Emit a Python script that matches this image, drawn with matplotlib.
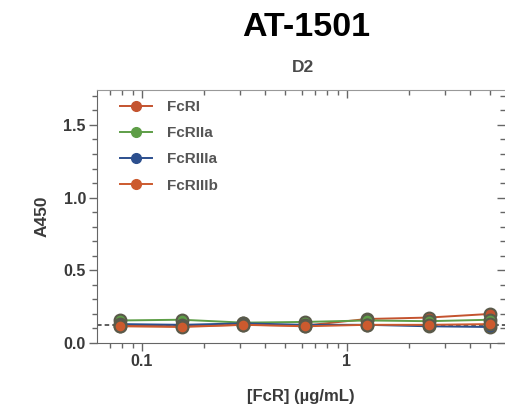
import matplotlib
matplotlib.use("Agg")
import matplotlib.pyplot as plt
from matplotlib.lines import Line2D
from matplotlib.ticker import MultipleLocator, LogLocator, NullFormatter, FixedLocator, FixedFormatter

plt.rcParams['font.family'] = ['Liberation Sans', 'DejaVu Sans']

# FcR concentration series (2-fold dilutions, ug/mL)
conc = [0.078, 0.156, 0.3125, 0.625, 1.25, 2.5, 5.0]

series_names = ["FcRI", "FcRIIa", "FcRIIIa", "FcRIIIb"]
fcri = [0.120, 0.115, 0.125, 0.120, 0.165, 0.175, 0.200]
fcriia = [0.155, 0.160, 0.140, 0.145, 0.155, 0.150, 0.160]
fcriiia = [0.130, 0.125, 0.135, 0.125, 0.125, 0.115, 0.110]
fcriiib = [0.115, 0.110, 0.125, 0.115, 0.125, 0.125, 0.130]
series_values = [fcri, fcriia, fcriiia, fcriiib]
series_colors = ["#C4532F", "#5E9E47", "#2C4F8E", "#CC5A2E"]

background_level = 0.127

x_tick_values = [0.1, 1]
x_tick_labels = ["0.1", "1"]

fig = plt.figure(figsize=(5.05, 4.11), dpi=100)
ax = fig.add_axes([97 / 505, 1 - 343 / 411, 408 / 505, 253 / 411])

for vals, col in zip(series_values, series_colors):
    ax.plot(conc, vals, color=col, lw=1.4, marker='o', markersize=8.5,
            markerfacecolor=col, markeredgecolor='#5a5a4a', markeredgewidth=1.5,
            zorder=3)

ax.axhline(background_level, color='#333333', lw=1.1, ls=(0, (3, 2)), zorder=2)

ax.set_xscale('log')
ax.set_xlim(0.0603, 5.9)
ax.set_ylim(0, 1.74)

ax.xaxis.set_major_locator(FixedLocator(x_tick_values))
ax.xaxis.set_major_formatter(FixedFormatter(x_tick_labels))
ax.xaxis.set_minor_locator(LogLocator(base=10, subs=range(2, 10)))
ax.xaxis.set_minor_formatter(NullFormatter())
ax.yaxis.set_major_locator(MultipleLocator(0.5))
ax.yaxis.set_minor_locator(MultipleLocator(0.1))
ax.yaxis.set_major_formatter(plt.FuncFormatter(lambda v, p: f"{v:.1f}"))

tick_col = '#666666'
ax.tick_params(axis='both', which='major', length=6, width=1, color=tick_col,
               labelsize=11.5, labelcolor='#3a3a3a', pad=2)
ax.tick_params(axis='both', which='minor', length=3.5, width=1, color=tick_col)
ax.tick_params(axis='x', which='both', top=True, direction='out')
ax.tick_params(axis='y', which='both', right=True)
for t in ax.xaxis.get_ticklabels() + ax.yaxis.get_ticklabels():
    t.set_fontweight('bold')

# mirrored ticks on the top and right edges point inward
for tick in ax.xaxis.get_major_ticks() + ax.xaxis.get_minor_ticks():
    tick.tick2line.set_marker(3)  # TICKDOWN
    tick.tick2line.set_color('#888888')
for tick in ax.yaxis.get_major_ticks() + ax.yaxis.get_minor_ticks():
    tick.tick2line.set_marker(0)  # TICKLEFT
    tick.tick2line.set_color('#888888')

ax.spines['left'].set_color(tick_col)
ax.spines['bottom'].set_color(tick_col)
ax.spines['top'].set_color('#999999')
ax.spines['right'].set_visible(False)

ax.set_ylabel("A450", fontsize=12.5, fontweight='bold', color='#3a3a3a', labelpad=10)
ax.set_xlabel("[FcR] (\u00b5g/mL)", fontsize=12, fontweight='bold', color='#3a3a3a', labelpad=14)

handles = [Line2D([], [], color=c, lw=1.4, marker='o', markersize=7,
                  markerfacecolor=c, markeredgecolor=c) for c in series_colors]
leg = ax.legend(handles, series_names, loc='upper left', bbox_to_anchor=(0.03, 1.003),
                frameon=False, fontsize=11, handlelength=2.1, handletextpad=0.95,
                labelspacing=0.8, borderaxespad=0.3)
for t in leg.get_texts():
    t.set_color('#555555')
    t.set_fontweight('bold')

fig.text(0.607, 1 - 27 / 411, "AT-1501", ha='center', va='center',
         fontsize=24.5, fontweight='bold', color='black')
fig.text(0.600, 1 - 68 / 411, "D2", ha='center', va='center',
         fontsize=12.5, fontweight='bold', color='#4a4a4a')

fig.savefig("out.png", dpi=100)
